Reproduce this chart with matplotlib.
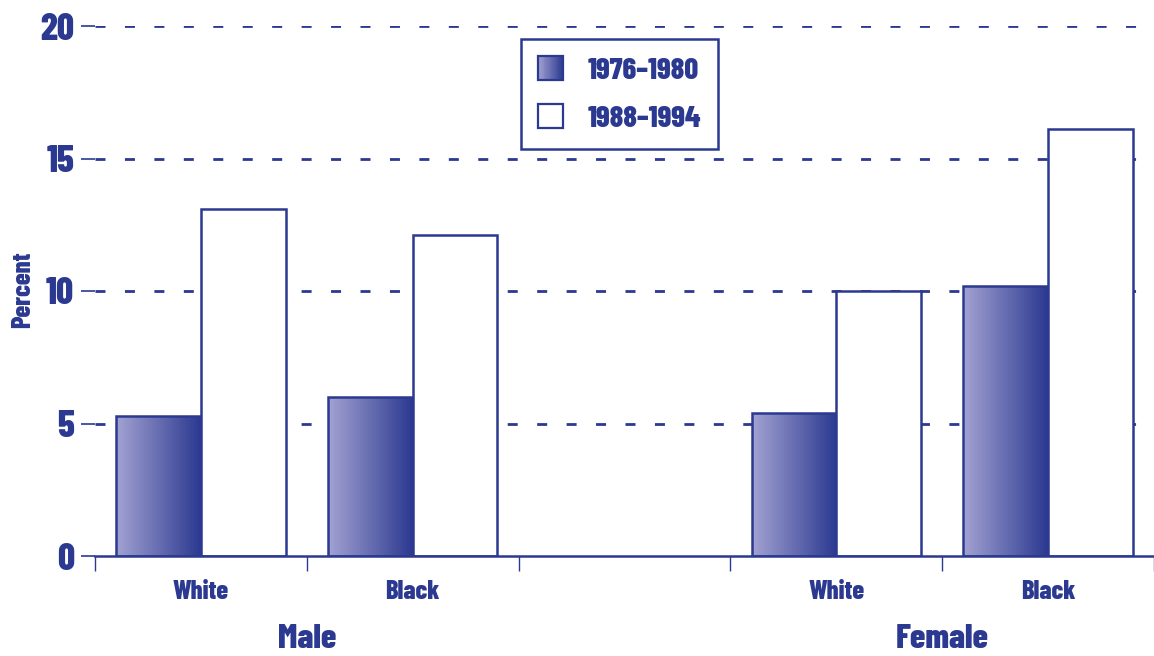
import numpy as np
import matplotlib
matplotlib.use('Agg')
import matplotlib.pyplot as plt
from matplotlib.colors import LinearSegmentedColormap
from matplotlib.patches import Rectangle
from matplotlib.legend_handler import HandlerBase
import matplotlib.transforms as mtransforms

# Data
groups = ['Male', 'Female']
races = ['White', 'Black', 'White', 'Black']
slots = [0, 1, 3, 4]          # slot 2 is an empty spacer between sexes
group_centers = [0.5, 3.5]
early = [5.3, 6.0, 5.4, 10.2]     # 1976-1980
late = [13.1, 12.1, 10.0, 16.1]   # 1988-1994
series_labels = ['1976\u20131980', '1988\u20131994']
yticks = [0, 5, 10, 15, 20]

navy = '#2b3990'
light = '#a3a2d2'
grad = LinearSegmentedColormap.from_list('grad', [light, navy])

plt.rcParams['font.family'] = ['Barlow Condensed', 'Liberation Sans', 'DejaVu Sans']
plt.rcParams['font.weight'] = 800
plt.rcParams['axes.labelweight'] = 800
plt.rcParams['lines.scale_dashes'] = False

fig = plt.figure(figsize=(11.54, 6.56), dpi=100)
ax = fig.add_axes([95 / 1154, 100 / 656, 1059 / 1154, 530 / 656])

x = np.array(slots, dtype=float)
w = 0.4
bars_early = ax.bar(x - w / 2, early, width=w, color='none', edgecolor=navy,
                    linewidth=1.8, zorder=3)
bars_late = ax.bar(x + w / 2, late, width=w, color='white', edgecolor=navy,
                   linewidth=1.8, zorder=3)

# gradient fill for the early bars
g = np.linspace(0, 1, 256).reshape(1, -1)
for b in bars_early:
    x0, y0 = b.get_x(), b.get_y()
    im = ax.imshow(g, cmap=grad, aspect='auto', zorder=2.5,
                   extent=[x0, x0 + b.get_width(), y0, y0 + b.get_height()])
    im.set_clip_path(b)

ax.set_xlim(-0.5, 4.5)
ax.set_ylim(0, 20)

# dashed gridlines
for yv in yticks[1:]:
    ax.axhline(yv, color=navy, linewidth=2.0, linestyle=(0, (7.2, 14.0)),
               zorder=1)

for s in ['left', 'right', 'top']:
    ax.spines[s].set_visible(False)
ax.spines['bottom'].set_color(navy)
ax.spines['bottom'].set_linewidth(1.8)
ax.spines['bottom'].set_zorder(4)

ax.set_yticks(yticks)
ax.set_yticklabels([str(v) for v in yticks])
ax.tick_params(axis='y', colors=navy, length=10, width=1.2, pad=5,
               labelsize=27)

ax.set_xticks(x)
ax.set_xticklabels(races)
ax.tick_params(axis='x', which='major', length=0, pad=17, colors=navy,
               labelsize=19)
ax.set_xticks(np.arange(-0.5, 4.6, 1.0), minor=True)
ax.tick_params(axis='x', which='minor', length=11, width=1.0, color=navy)

trans = mtransforms.blended_transform_factory(ax.transData, ax.transAxes)
for gc, name in zip(group_centers, groups):
    ax.text(gc, -0.157, name, transform=trans, ha='center', va='center',
            color=navy, fontsize=25, fontweight=800)

ax.set_ylabel('Percent', color=navy, fontsize=19, fontweight=800)
ax.yaxis.set_label_coords(-0.057, 0.502)


class GradientHandler(HandlerBase):
    def create_artists(self, legend, orig_handle, xdescent, ydescent,
                       width, height, fontsize, trans):
        n = 30
        arts = []
        for i in range(n):
            r = Rectangle((xdescent + width * i / n, -ydescent), width / n + 0.3,
                          height, facecolor=grad(i / (n - 1)), edgecolor='none',
                          transform=trans)
            arts.append(r)
        arts.append(Rectangle((xdescent, -ydescent), width, height,
                              facecolor='none', edgecolor=navy, linewidth=1.6,
                              transform=trans))
        return arts


h_early = Rectangle((0, 0), 1, 1)
h_late = Rectangle((0, 0), 1, 1, facecolor='white', edgecolor=navy,
                   linewidth=1.6)
leg = ax.legend([h_early, h_late], series_labels,
                handler_map={h_early: GradientHandler()},
                loc='upper left', bbox_to_anchor=(0.402, 0.975),
                frameon=True, fancybox=False, framealpha=1, fontsize=22,
                handlelength=0.85, handleheight=0.85, handletextpad=0.8,
                labelspacing=0.62, borderpad=0.55, borderaxespad=0)
leg.get_frame().set_edgecolor(navy)
leg.get_frame().set_linewidth(1.8)
leg.set_zorder(5)
for t in leg.get_texts():
    t.set_color(navy)

fig.savefig('out.png', dpi=100, facecolor='white')
